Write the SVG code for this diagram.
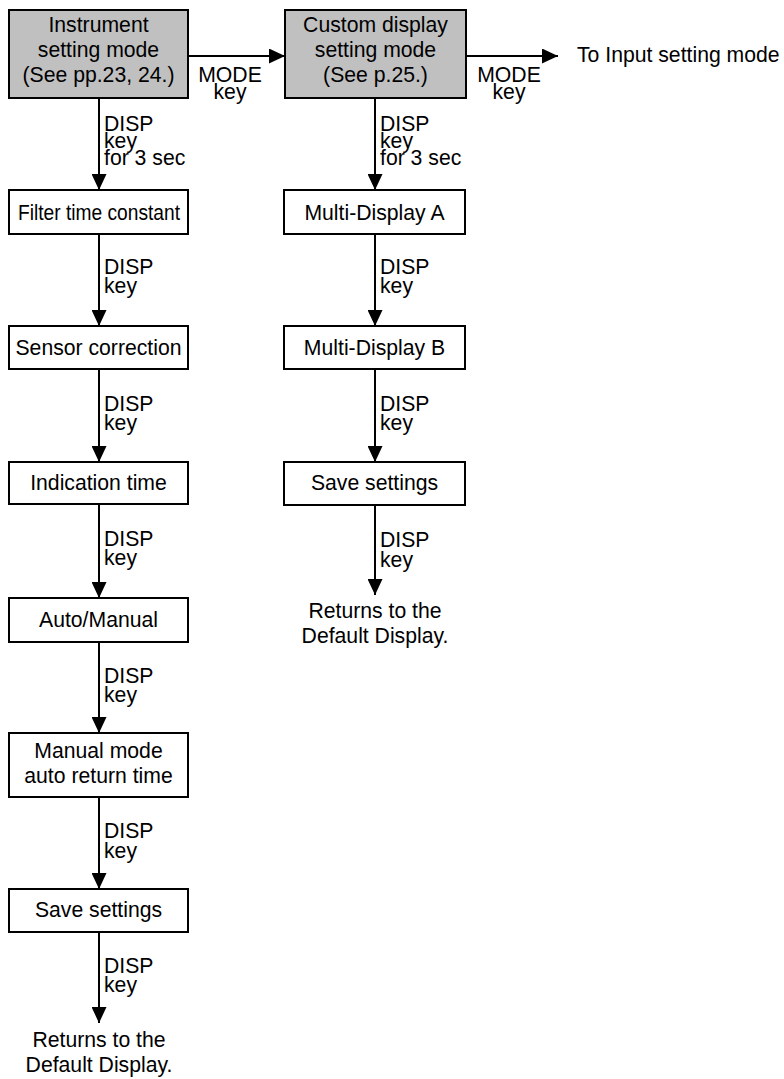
<svg xmlns="http://www.w3.org/2000/svg" width="784" height="1079" viewBox="0 0 784 1079">
<defs>
<style>
.box{fill:#fff;stroke:#000;stroke-width:2}
.mode{fill:#c0c0c0;stroke:#000;stroke-width:2}
.t{font-family:"Liberation Sans",Arial,sans-serif;font-size:21.2px;fill:#000}
.c{text-anchor:middle}
.ln{stroke:#000;stroke-width:2;fill:none}
</style>
<marker id="ah" viewBox="0 0 16 15" refX="16" refY="7.5" markerWidth="16" markerHeight="15" markerUnits="userSpaceOnUse" orient="auto">
<path d="M0,0 L16,7.5 L0,15 Z" fill="#000"/>
</marker>
</defs>
<rect width="784" height="1079" fill="#fff"/>
<g id="connectors">
<line class="ln" x1="188" y1="56" x2="285" y2="56" marker-end="url(#ah)"/>
<line class="ln" x1="466" y1="56" x2="558" y2="56" marker-end="url(#ah)"/>
<line class="ln" x1="99" y1="98" x2="99" y2="190" marker-end="url(#ah)"/>
<line class="ln" x1="99" y1="234" x2="99" y2="326" marker-end="url(#ah)"/>
<line class="ln" x1="99" y1="369" x2="99" y2="462" marker-end="url(#ah)"/>
<line class="ln" x1="99" y1="504" x2="99" y2="598" marker-end="url(#ah)"/>
<line class="ln" x1="99" y1="642" x2="99" y2="733" marker-end="url(#ah)"/>
<line class="ln" x1="99" y1="797" x2="99" y2="889" marker-end="url(#ah)"/>
<line class="ln" x1="99" y1="932" x2="99" y2="1023" marker-end="url(#ah)"/>
<line class="ln" x1="375" y1="98" x2="375" y2="190" marker-end="url(#ah)"/>
<line class="ln" x1="375" y1="234" x2="375" y2="326" marker-end="url(#ah)"/>
<line class="ln" x1="375" y1="369" x2="375" y2="462" marker-end="url(#ah)"/>
<line class="ln" x1="375" y1="505" x2="375" y2="595" marker-end="url(#ah)"/>
<g class="t">
<text class="c"><tspan x="230" y="82">MODE</tspan><tspan x="230" y="99">key</tspan></text>
<text class="c"><tspan x="509" y="82">MODE</tspan><tspan x="509" y="99">key</tspan></text>
<text x="577" y="62">To Input setting mode</text>
<text><tspan x="104" y="131">DISP</tspan><tspan x="104" y="148">key</tspan><tspan x="104" y="165">for 3 sec</tspan></text>
<text><tspan x="380" y="131">DISP</tspan><tspan x="380" y="148">key</tspan><tspan x="380" y="165">for 3 sec</tspan></text>
<text><tspan x="104" y="274">DISP</tspan><tspan x="104" y="293">key</tspan></text>
<text><tspan x="104" y="411">DISP</tspan><tspan x="104" y="430">key</tspan></text>
<text><tspan x="104" y="546">DISP</tspan><tspan x="104" y="565">key</tspan></text>
<text><tspan x="104" y="683">DISP</tspan><tspan x="104" y="702">key</tspan></text>
<text><tspan x="104" y="838">DISP</tspan><tspan x="104" y="858">key</tspan></text>
<text><tspan x="104" y="973">DISP</tspan><tspan x="104" y="992">key</tspan></text>
<text><tspan x="380" y="274">DISP</tspan><tspan x="380" y="293">key</tspan></text>
<text><tspan x="380" y="411">DISP</tspan><tspan x="380" y="430">key</tspan></text>
<text><tspan x="380" y="547">DISP</tspan><tspan x="380" y="567">key</tspan></text>
</g>
</g>
<g id="instrument"><rect class="mode" x="9" y="10" width="179" height="88"/>
<text class="t c"><tspan x="98.5" y="32">Instrument</tspan><tspan x="98.5" y="57">setting mode</tspan><tspan x="98.5" y="82">(See pp.23, 24.)</tspan></text></g>
<g id="custom"><rect class="mode" x="285" y="10" width="181" height="88"/>
<text class="t c"><tspan x="375.5" y="32">Custom display</tspan><tspan x="375.5" y="57">setting mode</tspan><tspan x="375.5" y="82">(See p.25.)</tspan></text></g>
<g id="filter"><rect class="box" x="9" y="190" width="179" height="44"/><text class="t" x="18" y="220" textLength="162" lengthAdjust="spacingAndGlyphs">Filter time constant</text></g>
<g id="sensor"><rect class="box" x="9" y="326" width="179" height="43"/><text class="t c" x="98.5" y="355">Sensor correction</text></g>
<g id="indication"><rect class="box" x="9" y="462" width="179" height="42"/><text class="t c" x="98.5" y="490">Indication time</text></g>
<g id="automanual"><rect class="box" x="9" y="598" width="179" height="44"/><text class="t c" x="98.5" y="627">Auto/Manual</text></g>
<g id="manualreturn"><rect class="box" x="9" y="733" width="179" height="64"/><text class="t c"><tspan x="98.5" y="758">Manual mode</tspan><tspan x="98.5" y="783">auto return time</tspan></text></g>
<g id="save1"><rect class="box" x="9" y="889" width="179" height="43"/><text class="t c" x="98.5" y="917">Save settings</text></g>
<g id="return1"><text class="t c"><tspan x="99" y="1047">Returns to the</tspan><tspan x="99" y="1072">Default Display.</tspan></text></g>
<g id="multiA"><rect class="box" x="284" y="190" width="181" height="44"/><text class="t c" x="374.5" y="220">Multi-Display A</text></g>
<g id="multiB"><rect class="box" x="284" y="326" width="181" height="43"/><text class="t c" x="374.5" y="355">Multi-Display B</text></g>
<g id="save2"><rect class="box" x="284" y="462" width="181" height="43"/><text class="t c" x="374.5" y="490">Save settings</text></g>
<g id="return2"><text class="t c"><tspan x="375" y="618">Returns to the</tspan><tspan x="375" y="643">Default Display.</tspan></text></g>
</svg>
